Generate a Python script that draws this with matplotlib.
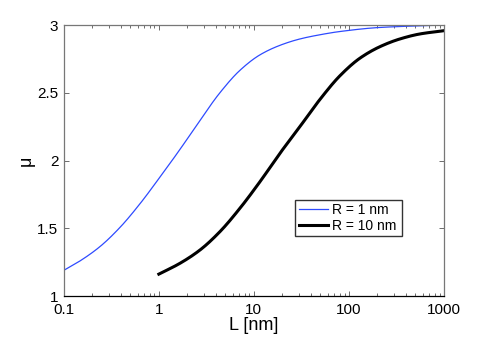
import matplotlib

matplotlib.use("Agg")

import matplotlib.pyplot as plt  # noqa: E402
import numpy as np  # noqa: E402

# values
L_r1 = [0.1, 0.147, 0.239, 0.388, 0.631, 1.02, 1.66, 2.70, 4.39,
        7.12, 11.6, 18.8, 30.5, 49.5, 80.4, 212, 1000]
mu_r1 = [1.19, 1.258, 1.364, 1.505, 1.68, 1.875, 2.08, 2.295, 2.50,
         2.665, 2.78, 2.85, 2.897, 2.928, 2.952, 2.982, 3.0]

L_r10 = [1, 1.66, 2.70, 4.39, 7.12, 11.6, 18.8, 30.5, 49.5, 80.4,
         130.6, 212, 344, 559, 1000]
mu_r10 = [1.162, 1.241, 1.339, 1.475, 1.647, 1.844, 2.053, 2.25,
          2.45, 2.625, 2.755, 2.84, 2.897, 2.934, 2.958]

plt.rcParams["font.family"] = ["Liberation Sans", "DejaVu Sans"]

fig = plt.figure(figsize=(4.91, 3.38), dpi=100)
ax = fig.add_axes([0.130, 0.124, 0.774, 0.802])


def smooth(xs, ys):
    # monotone cubic (pchip-like) through the read points, in log-x
    xs_ = np.log10(xs)
    ys_ = np.asarray(ys, dtype=float)
    grid = np.linspace(xs_[0], xs_[-1], 400)
    h = np.diff(xs_)
    d = np.diff(ys_) / h
    m = np.zeros_like(ys_)
    m[0], m[-1] = d[0], d[-1]
    for i in range(1, len(ys_) - 1):
        if d[i - 1] * d[i] > 0:
            w1 = 2 * h[i] + h[i - 1]
            w2 = h[i] + 2 * h[i - 1]
            m[i] = (w1 + w2) / (w1 / d[i - 1] + w2 / d[i])
    idx = np.clip(np.searchsorted(xs_, grid) - 1, 0, len(h) - 1)
    t = (grid - xs_[idx]) / h[idx]
    h00 = 2 * t**3 - 3 * t**2 + 1
    h10 = t**3 - 2 * t**2 + t
    h01 = -2 * t**3 + 3 * t**2
    h11 = t**3 - t**2
    yy = (h00 * ys_[idx] + h10 * h[idx] * m[idx]
          + h01 * ys_[idx + 1] + h11 * h[idx] * m[idx + 1])
    return 10 ** grid, yy


x1, y1 = smooth(L_r1, mu_r1)
x2, y2 = smooth(L_r10, mu_r10)
ax.plot(x1, y1, color="#2e4bff", linewidth=0.9, label="R = 1 nm")
ax.plot(x2, y2, color="black", linewidth=2.2, label="R = 10 nm")

ax.set_xscale("log")
ax.set_xlim(0.1, 1000)
ax.set_ylim(1, 3)
ax.set_xticks([0.1, 1, 10, 100, 1000])
ax.set_xticklabels(["0.1", "1", "10", "100", "1000"])
ax.set_yticks([1, 1.5, 2, 2.5, 3])
ax.set_yticklabels(["1", "1.5", "2", "2.5", "3"])
ax.tick_params(which="both", direction="in", top=True, right=True,
               labelsize=11, color="#555555")
ax.tick_params(axis="x", pad=5)
ax.tick_params(axis="y", pad=4)
ax.tick_params(which="major", length=3.5, width=0.6)
ax.tick_params(which="minor", length=2, width=0.6)
for side in ["top", "left", "right"]:
    ax.spines[side].set_color("#777777")
ax.spines["bottom"].set_color("black")
for sp in ax.spines.values():
    sp.set_linewidth(0.9)

ax.set_xlabel("L [nm]", fontsize=13, labelpad=0)
ax.set_ylabel("μ", fontsize=13, labelpad=2)

ax.legend(loc="lower left", bbox_to_anchor=(0.609, 0.221, 0.28, 0.144),
          mode="expand", fontsize=10, frameon=True, fancybox=False,
          edgecolor="#333333", framealpha=1, handlelength=2.1,
          handletextpad=0.3, borderpad=0.25, labelspacing=0.1,
          borderaxespad=0)

fig.savefig("out.png", dpi=100)
